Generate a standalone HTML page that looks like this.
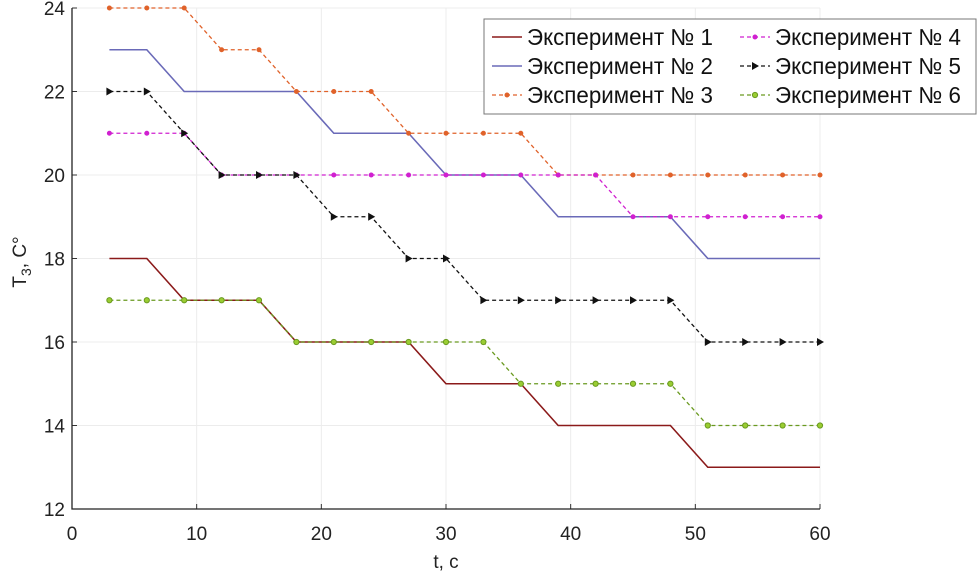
<!DOCTYPE html>
<html><head><meta charset="utf-8"><style>
body{margin:0;background:#fff;}
svg text{font-family:"Liberation Sans","DejaVu Sans",sans-serif;}
</style></head><body>
<svg id="chart" width="980" height="575" xmlns="http://www.w3.org/2000/svg">
<g id="grid"></g>
<g id="axes"></g>
<g id="series"></g>
<g id="legend"></g>
</svg>
<script>
const xs = [3,6,9,12,15,18,21,24,27,30,33,36,39,42,45,48,51,54,57,60];
const s1 = [18,18,17,17,17,16,16,16,16,15,15,15,14,14,14,14,13,13,13,13];
const s2 = [23,23,22,22,22,22,21,21,21,20,20,20,19,19,19,19,18,18,18,18];
const s3 = [24,24,24,23,23,22,22,22,21,21,21,21,20,20,20,20,20,20,20,20];
const s4 = [21,21,21,20,20,20,20,20,20,20,20,20,20,20,19,19,19,19,19,19];
const s5 = [22,22,21,20,20,20,19,19,18,18,17,17,17,17,17,17,16,16,16,16];
const s6 = [17,17,17,17,17,16,16,16,16,16,16,15,15,15,15,15,14,14,14,14];
const xTicks = [0,10,20,30,40,50,60];
const yTicks = [12,14,16,18,20,22,24];
const names = ["Эксперимент № 1","Эксперимент № 2","Эксперимент № 3","Эксперимент № 4","Эксперимент № 5","Эксперимент № 6"];

const X0=72,X1=820,Y0=509,Y1=8;
const sx=v=>X0+(v-0)/(60-0)*(X1-X0);
const sy=v=>Y0-(v-12)/(24-12)*(Y0-Y1);
const NS="http://www.w3.org/2000/svg";
function mk(tag,attrs,parent){const e=document.createElementNS(NS,tag);for(const k in attrs)e.setAttribute(k,attrs[k]);parent.appendChild(e);return e;}
const grid=document.getElementById('grid'),axes=document.getElementById('axes'),ser=document.getElementById('series'),leg=document.getElementById('legend');

xTicks.forEach(t=>{
 const l=mk('line',{x1:sx(t),x2:sx(t),y1:Y1,y2:Y0,stroke:'#ececec','stroke-width':1},grid);
 
 
 const tk=mk('line',{x1:sx(t),x2:sx(t),y1:Y0,y2:Y0-5,stroke:'#333','stroke-width':1},axes);
 
 
 const tx=mk('text',{x:sx(t),y:540,'text-anchor':'middle','font-size':19,fill:'#222'},axes);
 tx.textContent=t;
 
 
});
yTicks.forEach(t=>{
 const l=mk('line',{x1:X0,x2:X1,y1:sy(t),y2:sy(t),stroke:'#ececec','stroke-width':1},grid);
 
 
 const tk=mk('line',{x1:X0,x2:X0+5,y1:sy(t),y2:sy(t),stroke:'#333','stroke-width':1},axes);
 
 
 const tx=mk('text',{x:65,y:sy(t)+7,'text-anchor':'end','font-size':19,fill:'#222'},axes);
 tx.textContent=t;
 
 
});
const ax=mk('path',{d:`M${X0},${Y1}V${Y0}H${X1}`,fill:'none',stroke:'#222','stroke-width':1.3},axes);


const xt=mk('text',{x:446,y:568,'text-anchor':'middle','font-size':19,fill:'#222'},axes);
xt.textContent='t, c';


const yt=mk('text',{x:0,y:0,'text-anchor':'middle','font-size':19,fill:'#222',transform:'translate(26,262) rotate(-90)'},axes);
yt.innerHTML='T<tspan dy="5" font-size="14">3</tspan><tspan dy="-5">, C°</tspan>';



const defs=[
 {d:s1,c:'#8b1a1a',dash:'',m:'none',w:1.6},
 {d:s2,c:'#6a6ab8',dash:'',m:'none',w:1.6},
 {d:s3,c:'#e0622a',dash:'4,3',m:'dot',w:1.3},
 {d:s4,c:'#d020d0',dash:'4,3',m:'dot',w:1.3},
 {d:s5,c:'#111',dash:'4,3',m:'tri',w:1.3},
 {d:s6,c:'#6a9a20',dash:'4,3',m:'circ',w:1.3}
];
function marker(type,x,y,c,parent){
 let e;
 if(type==='dot') e=mk('circle',{cx:x,cy:y,r:2.5,fill:c},parent);
 else if(type==='circ') e=mk('circle',{cx:x,cy:y,r:2.6,fill:'#9acd32',stroke:c,'stroke-width':1},parent);
 else if(type==='tri') e=mk('path',{d:`M${x-3},${y-4}L${x+4},${y}L${x-3},${y+4}Z`,fill:c},parent);
 return e;
}
defs.forEach((s,i)=>{
 const g=mk('g',{},ser);
 
 
 const p=mk('polyline',{points:s.d.map((v,j)=>sx(xs[j])+','+sy(v)).join(' '),fill:'none',stroke:s.c,'stroke-width':s.w,'stroke-dasharray':s.dash},g);
 
 
 if(s.m!=='none') s.d.forEach((v,j)=>{
  const m=marker(s.m,sx(xs[j]),sy(v),s.c,g);
  
  
 });
});

const box=mk('rect',{x:484,y:19,width:492,height:95,fill:'#fff',stroke:'#777','stroke-width':1},leg);


defs.forEach((s,i)=>{
 const col=i<3?0:1,row=i%3;
 const lx=col?740:492,ly=37+row*29;
 const g=mk('g',{},leg);
 
 
 mk('line',{x1:lx,x2:lx+30,y1:ly,y2:ly,stroke:s.c,'stroke-width':s.w,'stroke-dasharray':s.dash},g);
 if(s.m!=='none') marker(s.m,lx+15,ly,s.c,g);
 const t=mk('text',{x:lx+35,y:ly+8,'font-size':23,fill:'#111',textLength:186,lengthAdjust:'spacingAndGlyphs'},g);
 t.textContent=names[i];
});
</script>
</body></html>
